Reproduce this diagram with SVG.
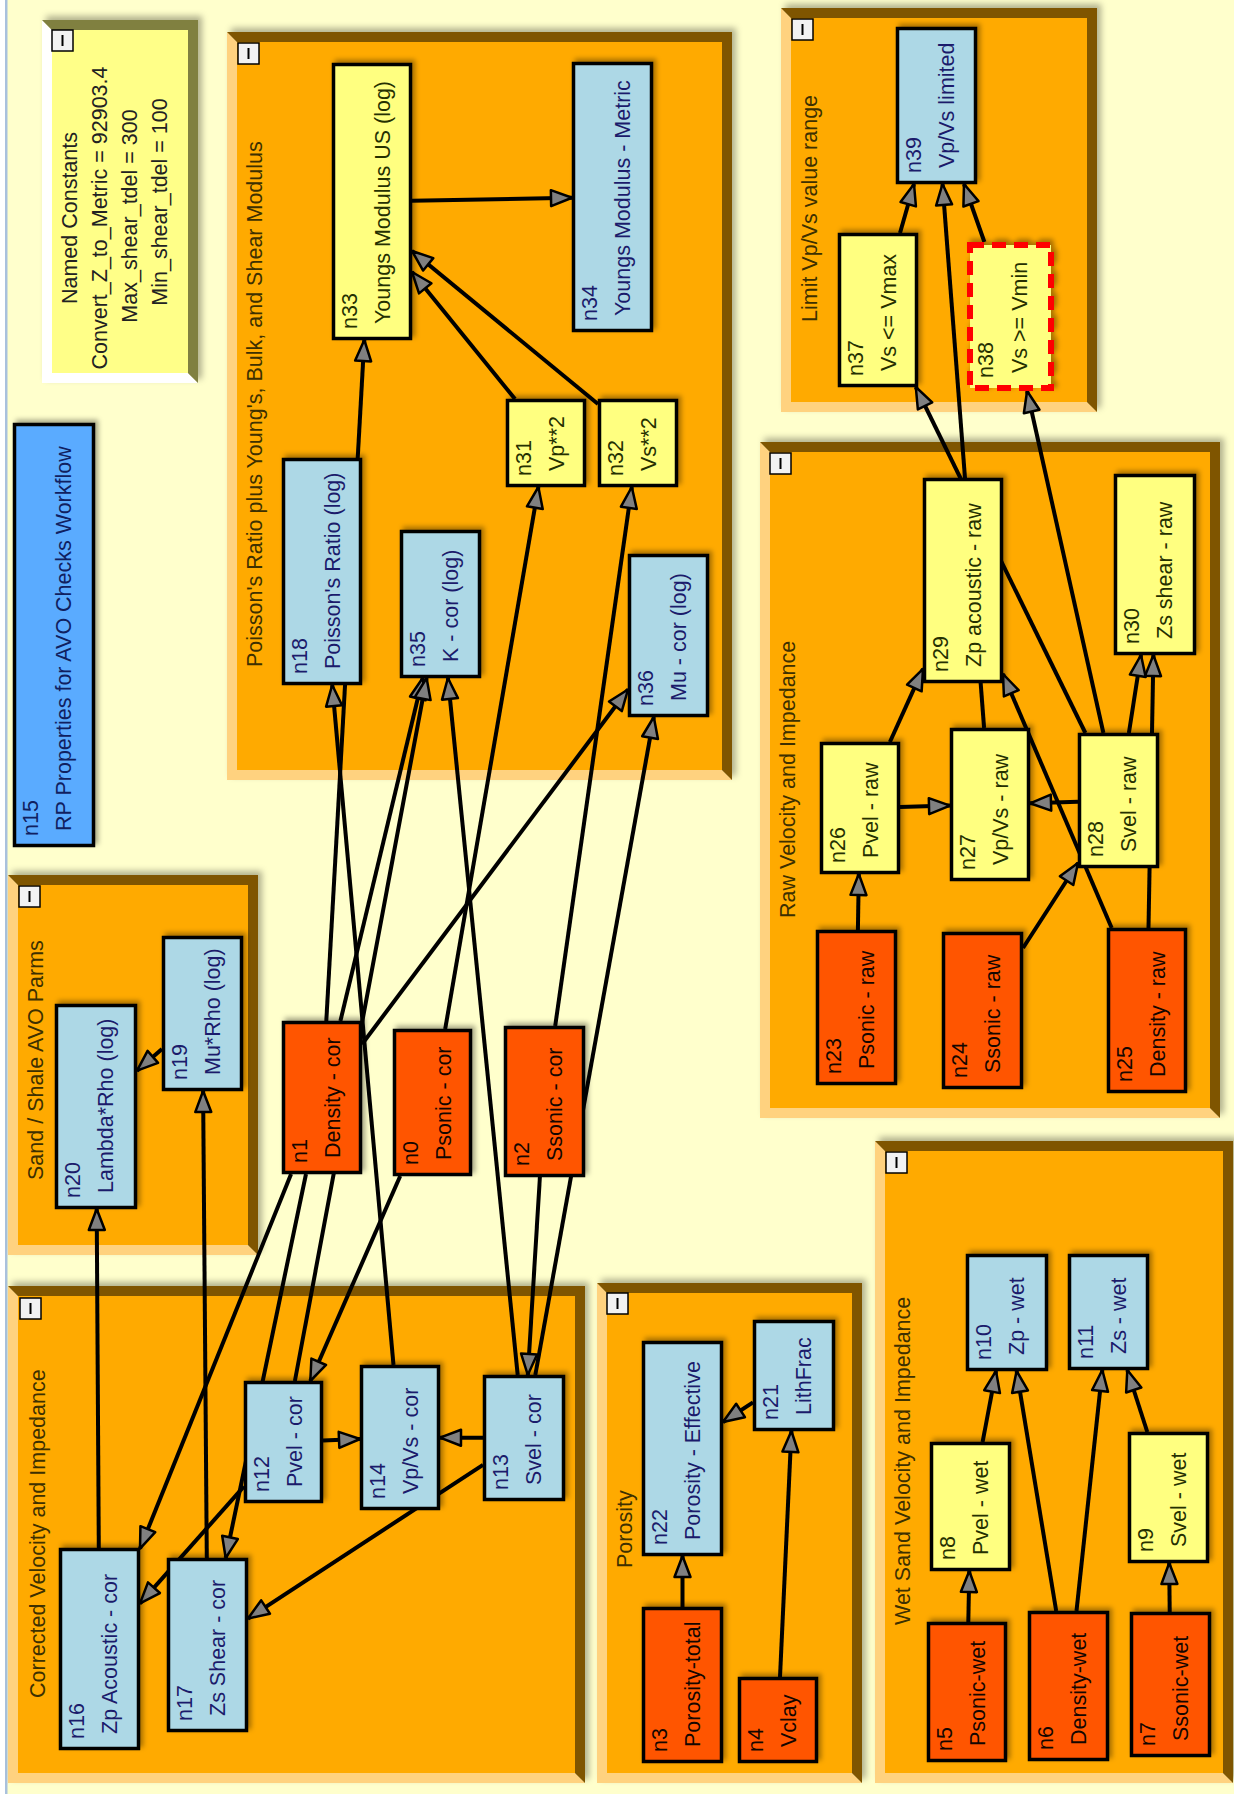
<svg xmlns="http://www.w3.org/2000/svg" width="1234" height="1794" viewBox="0 0 1234 1794">
<defs>
<style>
text{font-family:"Liberation Sans",Arial,sans-serif;font-size:21.5px}
.gl{fill:#FFD27F}.gd{fill:#7F5500}.gf{fill:#FFAA00}
.gt{fill:#3d3000}
.cb{fill:#F2F2F2;stroke:#000;stroke-width:1.5}
.cbl{stroke:#000;stroke-width:2}
.n rect{stroke:#000;stroke-width:3.5;filter:url(#ns)}
.b rect{fill:#ADD8E6}.b text{fill:#1b1b6b}
.y rect{fill:#FFFF80}.y text{fill:#253000}
.o rect{fill:#FF5500}.o text{fill:#140600}
.e line{stroke:#000;stroke-width:4;marker-end:url(#arr)}
</style>
<marker id="arr" markerUnits="userSpaceOnUse" viewBox="-23 -11 26 22" refX="0" refY="0" markerWidth="26" markerHeight="22" orient="auto" overflow="visible">
<path d="M-21,-8 L0,0 L-21,8 Z" fill="#808080" stroke="#000" stroke-width="2.5" stroke-linejoin="round"/>
</marker>
<filter id="ns" x="-30%" y="-30%" width="160%" height="160%"><feDropShadow dx="3" dy="-3" stdDeviation="2.5" flood-color="#000" flood-opacity="0.35"/></filter>
<filter id="gs" x="-10%" y="-10%" width="120%" height="120%"><feDropShadow dx="4" dy="-4" stdDeviation="3" flood-color="#000" flood-opacity="0.3"/></filter>
</defs>
<rect x="0" y="0" width="1234" height="1794" fill="#FFFFCC"/>
<rect x="0" y="0" width="5" height="1794" fill="#FFFFFF"/>
<rect x="5" y="0" width="2.5" height="1794" fill="#A9C1DD"/>

<g id="note">
<g filter="url(#gs)">
<polygon points="42,20 52,30 52,373 188,373 198,383 42,383" fill="#FFFFFF"/>
<polygon points="42,20 198,20 198,383 188,373 188,30 52,30" fill="#808040"/>
<rect x="52" y="30" width="136" height="343" fill="#FFFF88"/>
</g>
<rect class="cb" x="52" y="30" width="21" height="21"/><line class="cbl" x1="62.5" y1="35" x2="62.5" y2="46"/>
<g fill="#222" text-anchor="middle">
<text transform="translate(77,218) rotate(-90)">Named Constants</text>
<text transform="translate(107,218) rotate(-90)">Convert_Z_to_Metric = 92903.4</text>
<text transform="translate(137,216) rotate(-90)">Max_shear_tdel = 300</text>
<text transform="translate(167,202) rotate(-90)">Min_shear_tdel = 100</text>
</g>
</g>

<g id="grp-poisson">
<g filter="url(#gs)">
<polygon class="gl" points="227,32 237,42 237,770 722,770 732,780 227,780"/>
<polygon class="gd" points="227,32 732,32 732,780 722,770 722,42 237,42"/>
<rect class="gf" x="237" y="42" width="485" height="728"/>
</g>
<rect class="cb" x="238" y="43" width="21" height="21"/><line class="cbl" x1="248.5" y1="48" x2="248.5" y2="59"/>
<text class="gt" transform="translate(262,667) rotate(-90)">Poisson's Ratio plus Young's, Bulk, and Shear Modulus</text>
</g>

<g id="grp-sand">
<g filter="url(#gs)">
<polygon class="gl" points="8,875 18,885 18,1245 248,1245 258,1255 8,1255"/>
<polygon class="gd" points="8,875 258,875 258,1255 248,1245 248,885 18,885"/>
<rect class="gf" x="18" y="885" width="230" height="360"/>
</g>
<rect class="cb" x="19" y="886" width="21" height="21"/><line class="cbl" x1="29.5" y1="891" x2="29.5" y2="902"/>
<text class="gt" transform="translate(43,1180) rotate(-90)">Sand / Shale AVO Parms</text>
</g>

<g id="grp-corrected">
<g filter="url(#gs)">
<polygon class="gl" points="8,1286 18,1296 18,1773 575,1773 585,1783 8,1783"/>
<polygon class="gd" points="8,1286 585,1286 585,1783 575,1773 575,1296 18,1296"/>
<rect class="gf" x="18" y="1296" width="557" height="477"/>
</g>
<rect class="cb" x="20" y="1298" width="21" height="21"/><line class="cbl" x1="30.5" y1="1303" x2="30.5" y2="1314"/>
<text class="gt" transform="translate(45,1698) rotate(-90)">Corrected Velocity and Impedance</text>
</g>

<g id="grp-porosity">
<g filter="url(#gs)">
<polygon class="gl" points="597,1283 607,1293 607,1773 852,1773 862,1783 597,1783"/>
<polygon class="gd" points="597,1283 862,1283 862,1783 852,1773 852,1293 607,1293"/>
<rect class="gf" x="607" y="1293" width="245" height="480"/>
</g>
<rect class="cb" x="607" y="1293" width="21" height="21"/><line class="cbl" x1="617.5" y1="1298" x2="617.5" y2="1309"/>
<text class="gt" transform="translate(632,1568) rotate(-90)">Porosity</text>
</g>

<g id="grp-wet">
<g filter="url(#gs)">
<polygon class="gl" points="875,1141 885,1151 885,1773 1223,1773 1233,1783 875,1783"/>
<polygon class="gd" points="875,1141 1233,1141 1233,1783 1223,1773 1223,1151 885,1151"/>
<rect class="gf" x="885" y="1151" width="338" height="622"/>
</g>
<rect class="cb" x="886" y="1152" width="21" height="21"/><line class="cbl" x1="896.5" y1="1157" x2="896.5" y2="1168"/>
<text class="gt" transform="translate(910,1625) rotate(-90)">Wet Sand Velocity and Impedance</text>
</g>

<g id="grp-raw">
<g filter="url(#gs)">
<polygon class="gl" points="760,442 770,452 770,1108 1210,1108 1220,1118 760,1118"/>
<polygon class="gd" points="760,442 1220,442 1220,1118 1210,1108 1210,452 770,452"/>
<rect class="gf" x="770" y="452" width="440" height="656"/>
</g>
<rect class="cb" x="770" y="453" width="21" height="21"/><line class="cbl" x1="780.5" y1="458" x2="780.5" y2="469"/>
<text class="gt" transform="translate(795,918) rotate(-90)">Raw Velocity and Impedance</text>
</g>

<g id="grp-limit">
<g filter="url(#gs)">
<polygon class="gl" points="781,8 791,18 791,402 1087,402 1097,412 781,412"/>
<polygon class="gd" points="781,8 1097,8 1097,412 1087,402 1087,18 791,18"/>
<rect class="gf" x="791" y="18" width="296" height="384"/>
</g>
<rect class="cb" x="792" y="19" width="21" height="21"/><line class="cbl" x1="802.5" y1="24" x2="802.5" y2="35"/>
<text class="gt" transform="translate(817,322) rotate(-90)">Limit Vp/Vs value range</text>
</g>

<g id="edges" class="e">
<line x1="445.2" y1="1029" x2="538.4" y2="487"/>
<line x1="400.2" y1="1176" x2="310.3" y2="1381"/>
<line x1="326.3" y1="1021" x2="364.3" y2="340"/>
<line x1="340.4" y1="1021" x2="422.7" y2="678"/>
<line x1="362" y1="1044.2" x2="628" y2="689.5"/>
<line x1="291.1" y1="1174" x2="140" y2="1548.6"/>
<line x1="306" y1="1174" x2="225.7" y2="1558"/>
<line x1="555.2" y1="1026" x2="631.8" y2="487"/>
<line x1="539.9" y1="1177" x2="527.8" y2="1375"/>
<line x1="294.9" y1="1381" x2="426.6" y2="678"/>
<line x1="323" y1="1440.5" x2="360" y2="1439"/>
<line x1="244" y1="1486.4" x2="140" y2="1603.4"/>
<line x1="483" y1="1437.8" x2="440" y2="1437.7"/>
<line x1="483" y1="1464.8" x2="248" y2="1618.5"/>
<line x1="517.7" y1="1375" x2="447.9" y2="678"/>
<line x1="535.3" y1="1375" x2="653.8" y2="717"/>
<line x1="393.5" y1="1365" x2="332.2" y2="685"/>
<line x1="98.8" y1="1548" x2="96.7" y2="1209"/>
<line x1="206.8" y1="1558" x2="203.1" y2="1091"/>
<line x1="162" y1="1048.9" x2="137" y2="1070.7"/>
<line x1="515" y1="399" x2="412" y2="272"/>
<line x1="598" y1="404" x2="412" y2="251"/>
<line x1="412" y1="200.75" x2="572" y2="197.75"/>
<line x1="682.5" y1="1607" x2="682.5" y2="1556"/>
<line x1="780" y1="1677" x2="791.4" y2="1431"/>
<line x1="753" y1="1402.3" x2="723" y2="1422"/>
<line x1="968.3" y1="1622" x2="969.3" y2="1571"/>
<line x1="982.6" y1="1442" x2="996" y2="1371"/>
<line x1="1056.2" y1="1611" x2="1016.6" y2="1371"/>
<line x1="1076.5" y1="1611" x2="1102.3" y2="1370"/>
<line x1="1147.3" y1="1432" x2="1127.3" y2="1370"/>
<line x1="1169.7" y1="1612" x2="1169.2" y2="1563"/>
<line x1="857.9" y1="930" x2="858.8" y2="874"/>
<line x1="1023" y1="948" x2="1078" y2="863"/>
<line x1="1111.7" y1="928" x2="1003" y2="674"/>
<line x1="1148.5" y1="928" x2="1153.4" y2="655"/>
<line x1="889.9" y1="742" x2="923" y2="668.9"/>
<line x1="900" y1="806.9" x2="950" y2="805.6"/>
<line x1="1078" y1="801.8" x2="1030" y2="803.3"/>
<line x1="1128.9" y1="733" x2="1141" y2="655"/>
<line x1="1085.4" y1="733" x2="915.8" y2="387"/>
<line x1="1103.4" y1="733" x2="1027.1" y2="391"/>
<line x1="984.1" y1="728" x2="942.5" y2="184"/>
<line x1="900" y1="233" x2="914" y2="184"/>
<line x1="984.4" y1="242" x2="964" y2="184"/>
</g>

<g id="n15" class="n"><rect x="14.5" y="424.5" width="79" height="421" fill="#5AABFF"/><text fill="#102060" transform="translate(38,836) rotate(-90)">n15</text><text fill="#102060" transform="translate(71,831) rotate(-90)">RP Properties for AVO Checks Workflow</text></g>

<g id="n0" class="n o"><rect x="394.5" y="1030.5" width="76" height="144"/><text transform="translate(418,1165) rotate(-90)">n0</text><text transform="translate(451,1160) rotate(-90)">Psonic - cor</text></g>
<g id="n1" class="n o"><rect x="283.5" y="1022.5" width="77" height="150"/><text transform="translate(307,1163) rotate(-90)">n1</text><text transform="translate(340,1158) rotate(-90)">Density - cor</text></g>
<g id="n2" class="n o"><rect x="505.5" y="1027.5" width="78" height="148"/><text transform="translate(529,1166) rotate(-90)">n2</text><text transform="translate(562,1161) rotate(-90)">Ssonic - cor</text></g>
<g id="n3" class="n o"><rect x="643.5" y="1608.5" width="78" height="153"/><text transform="translate(667,1752) rotate(-90)">n3</text><text transform="translate(700,1747) rotate(-90)">Porosity-total</text></g>
<g id="n4" class="n o"><rect x="739.5" y="1678.5" width="77" height="83"/><text transform="translate(763,1752) rotate(-90)">n4</text><text transform="translate(796,1747) rotate(-90)">Vclay</text></g>
<g id="n5" class="n o"><rect x="928.5" y="1623.5" width="77" height="137"/><text transform="translate(952,1751) rotate(-90)">n5</text><text transform="translate(985,1746) rotate(-90)">Psonic-wet</text></g>
<g id="n6" class="n o"><rect x="1029.5" y="1612.5" width="78" height="147"/><text transform="translate(1053,1750) rotate(-90)">n6</text><text transform="translate(1086,1745) rotate(-90)">Density-wet</text></g>
<g id="n7" class="n o"><rect x="1131.5" y="1613.5" width="78" height="142"/><text transform="translate(1155,1746) rotate(-90)">n7</text><text transform="translate(1188,1741) rotate(-90)">Ssonic-wet</text></g>
<g id="n8" class="n y"><rect x="931.5" y="1443.5" width="78" height="126"/><text transform="translate(955,1560) rotate(-90)">n8</text><text transform="translate(988,1555) rotate(-90)">Pvel - wet</text></g>
<g id="n9" class="n y"><rect x="1129.5" y="1433.5" width="78" height="128"/><text transform="translate(1153,1552) rotate(-90)">n9</text><text transform="translate(1186,1547) rotate(-90)">Svel - wet</text></g>
<g id="n10" class="n b"><rect x="967.5" y="1255.5" width="79" height="114"/><text transform="translate(991,1360) rotate(-90)">n10</text><text transform="translate(1024,1355) rotate(-90)">Zp - wet</text></g>
<g id="n11" class="n b"><rect x="1069.5" y="1255.5" width="78" height="113"/><text transform="translate(1093,1359) rotate(-90)">n11</text><text transform="translate(1126,1354) rotate(-90)">Zs - wet</text></g>
<g id="n12" class="n b"><rect x="245.5" y="1382.5" width="76" height="119"/><text transform="translate(269,1492) rotate(-90)">n12</text><text transform="translate(302,1487) rotate(-90)">Pvel - cor</text></g>
<g id="n13" class="n b"><rect x="484.5" y="1376.5" width="79" height="123"/><text transform="translate(508,1490) rotate(-90)">n13</text><text transform="translate(541,1485) rotate(-90)">Svel - cor</text></g>
<g id="n14" class="n b"><rect x="361.5" y="1366.5" width="77" height="142"/><text transform="translate(385,1499) rotate(-90)">n14</text><text transform="translate(418,1494) rotate(-90)">Vp/Vs - cor</text></g>
<g id="n16" class="n b"><rect x="60.5" y="1549.5" width="78" height="199"/><text transform="translate(84,1739) rotate(-90)">n16</text><text transform="translate(117,1734) rotate(-90)">Zp Acoustic - cor</text></g>
<g id="n17" class="n b"><rect x="168.5" y="1559.5" width="78" height="171"/><text transform="translate(192,1721) rotate(-90)">n17</text><text transform="translate(225,1716) rotate(-90)">Zs Shear - cor</text></g>
<g id="n18" class="n b"><rect x="283.5" y="459.5" width="77" height="224"/><text transform="translate(307,674) rotate(-90)">n18</text><text transform="translate(340,669) rotate(-90)">Poisson's Ratio (log)</text></g>
<g id="n19" class="n b"><rect x="163.5" y="937.5" width="78" height="152"/><text transform="translate(187,1080) rotate(-90)">n19</text><text transform="translate(220,1075) rotate(-90)">Mu*Rho (log)</text></g>
<g id="n20" class="n b"><rect x="56.5" y="1005.5" width="79" height="202"/><text transform="translate(80,1198) rotate(-90)">n20</text><text transform="translate(113,1193) rotate(-90)">Lambda*Rho (log)</text></g>
<g id="n21" class="n b"><rect x="754.5" y="1321.5" width="79" height="108"/><text transform="translate(778,1420) rotate(-90)">n21</text><text transform="translate(811,1415) rotate(-90)">LithFrac</text></g>
<g id="n22" class="n b"><rect x="643.5" y="1342.5" width="78" height="212"/><text transform="translate(667,1545) rotate(-90)">n22</text><text transform="translate(700,1540) rotate(-90)">Porosity - Effective</text></g>
<g id="n23" class="n o"><rect x="817.5" y="931.5" width="78" height="152"/><text transform="translate(841,1074) rotate(-90)">n23</text><text transform="translate(874,1069) rotate(-90)">Psonic - raw</text></g>
<g id="n24" class="n o"><rect x="943.5" y="933.5" width="78" height="154"/><text transform="translate(967,1078) rotate(-90)">n24</text><text transform="translate(1000,1073) rotate(-90)">Ssonic - raw</text></g>
<g id="n25" class="n o"><rect x="1108.5" y="929.5" width="77" height="162"/><text transform="translate(1132,1082) rotate(-90)">n25</text><text transform="translate(1165,1077) rotate(-90)">Density - raw</text></g>
<g id="n26" class="n y"><rect x="821.5" y="743.5" width="77" height="129"/><text transform="translate(845,863) rotate(-90)">n26</text><text transform="translate(878,858) rotate(-90)">Pvel - raw</text></g>
<g id="n27" class="n y"><rect x="951.5" y="729.5" width="77" height="150"/><text transform="translate(975,870) rotate(-90)">n27</text><text transform="translate(1008,865) rotate(-90)">Vp/Vs - raw</text></g>
<g id="n28" class="n y"><rect x="1079.5" y="734.5" width="78" height="132"/><text transform="translate(1103,857) rotate(-90)">n28</text><text transform="translate(1136,852) rotate(-90)">Svel - raw</text></g>
<g id="n29" class="n y"><rect x="924.5" y="479.5" width="77" height="202"/><text transform="translate(948,672) rotate(-90)">n29</text><text transform="translate(981,667) rotate(-90)">Zp acoustic - raw</text></g>
<g id="n30" class="n y"><rect x="1115.5" y="475.5" width="79" height="178"/><text transform="translate(1139,644) rotate(-90)">n30</text><text transform="translate(1172,639) rotate(-90)">Zs shear - raw</text></g>
<g id="n31" class="n y"><rect x="507.5" y="400.5" width="77" height="85"/><text transform="translate(531,476) rotate(-90)">n31</text><text transform="translate(564,471) rotate(-90)">Vp**2</text></g>
<g id="n32" class="n y"><rect x="599.5" y="400.5" width="77" height="85"/><text transform="translate(623,476) rotate(-90)">n32</text><text transform="translate(656,471) rotate(-90)">Vs**2</text></g>
<g id="n33" class="n y"><rect x="333.5" y="64.5" width="77" height="274"/><text transform="translate(357,329) rotate(-90)">n33</text><text transform="translate(390,324) rotate(-90)">Youngs Modulus US (log)</text></g>
<g id="n34" class="n b"><rect x="573.5" y="63.5" width="78" height="267"/><text transform="translate(597,321) rotate(-90)">n34</text><text transform="translate(630,316) rotate(-90)">Youngs Modulus - Metric</text></g>
<g id="n35" class="n b"><rect x="401.5" y="531.5" width="78" height="145"/><text transform="translate(425,667) rotate(-90)">n35</text><text transform="translate(458,662) rotate(-90)">K - cor (log)</text></g>
<g id="n36" class="n b"><rect x="629.5" y="555.5" width="78" height="160"/><text transform="translate(653,706) rotate(-90)">n36</text><text transform="translate(686,701) rotate(-90)">Mu - cor (log)</text></g>
<g id="n37" class="n y"><rect x="839.5" y="234.5" width="77" height="151"/><text transform="translate(863,376) rotate(-90)">n37</text><text transform="translate(896,371) rotate(-90)">Vs &lt;= Vmax</text></g>
<g id="n38" class="y"><rect x="970" y="245" width="81" height="143" stroke="#FF0000" stroke-width="6" stroke-dasharray="14 8" filter="url(#ns)"/><text transform="translate(993,378) rotate(-90)">n38</text><text transform="translate(1027,373) rotate(-90)">Vs &gt;= Vmin</text></g>
<g id="n39" class="n b"><rect x="897.5" y="28.5" width="78" height="154"/><text transform="translate(921,173) rotate(-90)">n39</text><text transform="translate(954,168) rotate(-90)">Vp/Vs limited</text></g>
</svg>
